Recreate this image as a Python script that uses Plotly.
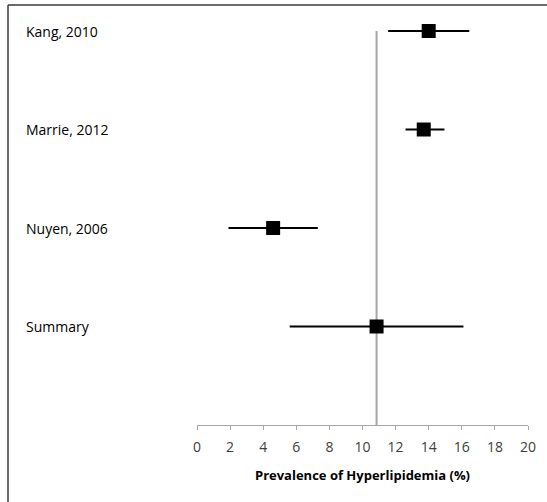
import plotly.graph_objects as go

studies = ["Kang, 2010", "Marrie, 2012", "Nuyen, 2006", "Summary"]
row_pos = [4, 3, 2, 1]
estimate = [14.0, 13.7, 4.6, 10.85]
ci_low = [11.55, 12.6, 1.9, 5.6]
ci_high = [16.45, 14.95, 7.3, 16.1]
ref_y = [0, 4]
x_ticks = list(range(0, 21, 2))

err_plus = [h - e for h, e in zip(ci_high, estimate)]
err_minus = [e - l for e, l in zip(estimate, ci_low)]

W, H = 547, 502
L, R, T, B = 197, 19, 10, 77
pw, ph = W - L - R, H - T - B

def px(x):
    return (x - L) / pw

def py(y):
    return (H - B - y) / ph

fig = go.Figure()

fig.add_trace(go.Scatter(
    x=[estimate[-1]] * len(ref_y), y=ref_y, mode="lines",
    line=dict(color="#a6a6a6", width=2), hoverinfo="skip", showlegend=False,
))

fig.add_trace(go.Scatter(
    x=estimate, y=row_pos, mode="markers",
    marker=dict(symbol="square", size=14, color="black"),
    error_x=dict(type="data", symmetric=False, array=err_plus, arrayminus=err_minus,
                 color="black", thickness=2.2, width=0),
    showlegend=False,
))

for s, yv in zip(studies, row_pos):
    fig.add_annotation(x=px(24), xref="paper", y=yv, yref="y", text=s,
                       showarrow=False, xanchor="left", yanchor="middle",
                       font=dict(size=14, color="#000000", family="Open Sans"))

fig.add_shape(type="line", xref="paper", yref="paper",
              x0=px(8), x1=px(W + 5), y0=py(5), y1=py(5),
              line=dict(color="#3a3a3a", width=1.5))
fig.add_shape(type="line", xref="paper", yref="paper",
              x0=px(8), x1=px(8), y0=py(5), y1=py(H + 5),
              line=dict(color="#3a3a3a", width=1.5))

fig.update_xaxes(range=[0, 20], tickvals=x_ticks, ticktext=[str(t) for t in x_ticks],
                 showgrid=False, zeroline=False, showline=True, linecolor="#a6a6a6",
                 linewidth=1, ticks="outside", ticklen=4, tickcolor="#a6a6a6",
                 tickfont=dict(size=14, color="#404040", family="Open Sans"),
                 ticklabelstandoff=5,
                 title=dict(text="<b>Prevalence of Hyperlipidemia (%)</b>",
                            font=dict(size=13, color="#000000", family="Open Sans"),
                            standoff=16))
fig.update_yaxes(range=[0, ph / 98.5], showgrid=False, zeroline=False,
                 showticklabels=False, showline=False)

fig.update_layout(width=W, height=H, margin=dict(l=L, r=R, t=T, b=B, autoexpand=False),
                  plot_bgcolor="white", paper_bgcolor="white")

fig.write_html("out.html")
